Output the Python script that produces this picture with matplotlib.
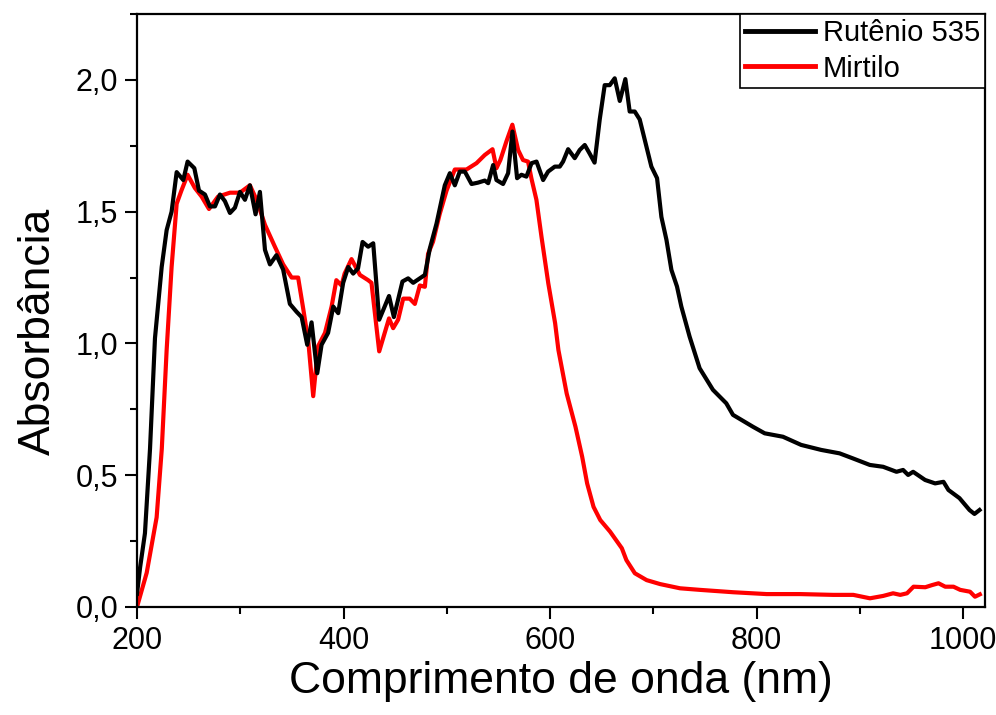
import matplotlib
matplotlib.use("Agg")
import matplotlib.pyplot as plt
from matplotlib.ticker import MultipleLocator, FuncFormatter

plt.rcParams['font.family'] = ['Liberation Sans', 'DejaVu Sans']

wl_ru = [200, 203, 207.7, 212.6, 217.4, 223.9, 228.7, 233.5, 238.4, 244.8, 249, 255.5, 260, 265.8,
         270.6, 275.5, 280.3, 285.1, 290, 294.8, 299.7, 304.5, 309.3, 314.8, 319, 323.9, 328.7,
         335, 341.5, 348, 354.5, 359.4, 364.8, 369, 374.5, 378.7, 385, 390, 394.8, 399.6, 404.5,
         409.3, 414, 418.4, 423.8, 428.7, 434.5, 444, 448.7, 457, 462.5, 467.4, 478.7, 483.5, 490,
         498, 502.9, 507.7, 512.5, 517.4, 523.9, 530, 536.7, 540, 544.8, 548, 554.4, 559.3, 563.5,
         568, 572.2, 577, 582, 586.8, 593.2, 598, 604.5, 609.3, 612.5, 617.4, 623.8, 628.6, 633.5,
         638.3, 643, 648, 652.8, 657.7, 662.5, 667.4, 672.8, 677, 681.9, 686.7, 693.2, 698, 703.5,
         707.7, 712.6, 717.4, 722.8, 727, 735, 744.7, 757.6, 770.5, 777, 796.3, 807.7, 825.4, 843,
         862.4, 880.2, 893, 909.5, 922.4, 935.3, 941.7, 946.6, 951.4, 963, 972.7, 980.8, 985.6,
         996.3, 1006, 1010.8, 1015.7]
abs_ru = [0.05, 0.15, 0.28, 0.60, 1.02, 1.29, 1.43, 1.50, 1.65, 1.62, 1.69, 1.665, 1.58, 1.565,
          1.52, 1.52, 1.565, 1.54, 1.495, 1.515, 1.575, 1.545, 1.60, 1.49, 1.575, 1.355, 1.30,
          1.335, 1.28, 1.15, 1.12, 1.10, 0.995, 1.08, 0.887, 0.995, 1.04, 1.14, 1.115, 1.23, 1.29,
          1.265, 1.285, 1.385, 1.367, 1.38, 1.09, 1.18, 1.10, 1.235, 1.247, 1.23, 1.26, 1.36, 1.455,
          1.60, 1.646, 1.60, 1.652, 1.652, 1.605, 1.61, 1.618, 1.608, 1.677, 1.62, 1.605, 1.646, 1.804,
          1.627, 1.64, 1.633, 1.684, 1.69, 1.62, 1.652, 1.671, 1.671, 1.69, 1.737, 1.703, 1.734, 1.753,
          1.72, 1.686, 1.85, 1.98, 1.98, 2.006, 1.92, 2.003, 1.88, 1.88, 1.85, 1.747, 1.671, 1.627,
          1.48, 1.393, 1.279, 1.216, 1.14, 1.026, 0.906, 0.824, 0.773, 0.729, 0.684, 0.659, 0.646, 0.615,
          0.596, 0.583, 0.564, 0.539, 0.532, 0.513, 0.52, 0.501, 0.513, 0.482, 0.469, 0.475, 0.444,
          0.413, 0.368, 0.353, 0.368]

wl_mi = [200, 209.4, 219, 224, 228.7, 233.5, 238.4, 243, 249, 256, 262.6, 269.7, 278.4, 290, 299.7,
         309.3, 315.8, 323.9, 333.5, 341.5, 349.7, 356, 361, 365.8, 370.6, 375.4, 382, 388.4, 393,
         398, 401, 407.7, 415.8, 423.8, 427, 434.5, 444, 448, 452.8, 457.7, 464, 469, 473.8, 478.7,
         481.8, 486.6, 493, 499.7, 507.7, 519, 528.7, 536.7, 544.2, 548, 551.8, 557.6, 563.4, 569,
         573.7, 578.6, 581.8, 586.7, 591.6, 598.2, 604.8, 608, 616, 624.5, 631, 635.8, 642, 648.5,
         658, 669.4, 673.8, 682, 693.4, 706.4, 725.7, 745, 777.3, 809.6, 842, 874, 893.5, 909.6,
         922.4, 932, 939, 945.5, 951.8, 963.2, 969.6, 976, 982.5, 990.5, 997, 1006.5, 1011.3, 1016]
abs_mi = [0.0, 0.13, 0.34, 0.60, 0.975, 1.29, 1.53, 1.58, 1.64, 1.59, 1.557, 1.51, 1.557, 1.572, 1.572,
          1.60, 1.545, 1.45, 1.367, 1.30, 1.25, 1.25, 1.13, 1.01, 0.80, 0.99, 1.04, 1.14, 1.24,
          1.22, 1.265, 1.32, 1.26, 1.24, 1.23, 0.97, 1.095, 1.058, 1.09, 1.17, 1.17, 1.15, 1.22, 1.215,
          1.34, 1.386, 1.49, 1.58, 1.66, 1.66, 1.684, 1.715, 1.737, 1.665, 1.696, 1.766, 1.83, 1.734,
          1.696, 1.69, 1.627, 1.545, 1.405, 1.228, 1.077, 0.975, 0.81, 0.684, 0.57, 0.469, 0.38, 0.33,
          0.286, 0.223, 0.178, 0.128, 0.102, 0.087, 0.071, 0.065, 0.056, 0.049, 0.049, 0.046, 0.046, 0.033,
          0.042, 0.052, 0.046, 0.052, 0.077, 0.075, 0.083, 0.09, 0.077, 0.077, 0.065, 0.058, 0.039, 0.048]

labels = ["Rutênio 535", "Mirtilo"]
colors = ["black", "red"]

fig = plt.figure(figsize=(9.96, 7.15), dpi=100)
ax = fig.add_axes([137/996, 1-607/715, (985-137)/996, (607-14)/715])

l_mi, = ax.plot(wl_mi, abs_mi, color=colors[1], lw=3.0, label=labels[1])
l_ru, = ax.plot(wl_ru, abs_ru, color=colors[0], lw=3.0, label=labels[0])

ax.set_xlim(200, 1021)
ax.set_ylim(0, 2.25)
ax.xaxis.set_major_locator(MultipleLocator(200))
ax.xaxis.set_minor_locator(MultipleLocator(100))
ax.yaxis.set_major_locator(MultipleLocator(0.5))
ax.yaxis.set_minor_locator(MultipleLocator(0.25))
ax.yaxis.set_major_formatter(FuncFormatter(lambda v, p: f"{v:.1f}".replace('.', ',')))

for s in ax.spines.values():
    s.set_linewidth(1.6)
ax.tick_params(which='major', direction='out', length=8.5, width=1.5, labelsize=22, pad=5)
ax.tick_params(which='minor', direction='out', length=5, width=1.5)
ax.tick_params(top=False, right=False)

ax.set_xlabel("Comprimento de onda (nm)", fontsize=32, labelpad=4)
ax.set_ylabel("Absorbância", fontsize=32, labelpad=12)
ax.yaxis.label.set_y(0.465)

leg = ax.legend([l_ru, l_mi], labels, loc='upper right', borderaxespad=0, fontsize=21,
                fancybox=False, edgecolor='black', framealpha=1, borderpad=0.18,
                labelspacing=0.25, handlelength=2.4, handletextpad=0.25)
leg.get_frame().set_linewidth(1.2)
for h in leg.get_lines():
    h.set_linewidth(3.5)

fig.savefig("out.png", dpi=100)
